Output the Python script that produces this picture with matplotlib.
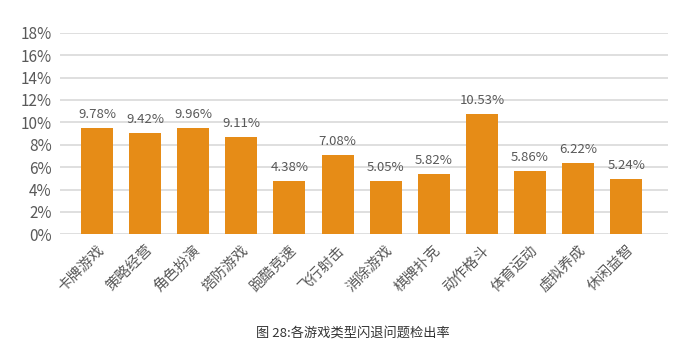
import matplotlib.pyplot as plt

plt.rcParams['font.family'] = ['Noto Sans CJK SC', 'DejaVu Sans']

# categories and values
categories = ["卡牌游戏", "策略经营", "角色扮演", "塔防游戏", "跑酷竞速", "飞行射击",
              "消除游戏", "棋牌扑克", "动作格斗", "体育运动", "虚拟养成", "休闲益智"]
# bar heights as drawn (%)
bar_heights = [9.49, 9.04, 9.49, 8.68, 4.76, 7.08, 4.76, 5.38, 10.74, 5.65, 6.37, 4.94]
# printed data labels
label_values = [9.78, 9.42, 9.96, 9.11, 4.38, 7.08, 5.05, 5.82, 10.53, 5.86, 6.22, 5.24]
y_ticks = [0, 2, 4, 6, 8, 10, 12, 14, 16, 18]

bar_color = "#E68C17"
text_color = "#595959"
grid_color = "#D9D9D9"

fig = plt.figure(figsize=(6.93, 3.53), dpi=100)
ax = fig.add_axes([60 / 693, 1 - 234.3 / 353, 608 / 693, (234.3 - 32.7) / 353])

x = range(len(categories))
bars = ax.bar(x, bar_heights, width=0.665, color=bar_color, zorder=3)

for b, v in zip(bars, label_values):
    ax.annotate(f"{v:.2f}%", (b.get_x() + b.get_width() / 2, b.get_height()),
                xytext=(0, 5), textcoords="offset points",
                ha="center", va="bottom", fontsize=9.5, color=text_color)

ax.set_ylim(0, 18)
ax.set_xlim(-0.77, 11.87)
ax.set_yticks(y_ticks)
ax.set_yticklabels([f"{t}%" for t in y_ticks], fontsize=11, color=text_color)
ax.set_xticks(list(x))
ax.set_xticklabels(categories, rotation=45, ha="right", rotation_mode="anchor",
                   fontsize=10.5, color=text_color)
ax.tick_params(axis="both", length=0)
ax.tick_params(axis="y", pad=6)
ax.tick_params(axis="x", pad=6)

ax.grid(axis="y", color=grid_color, linewidth=1.2, zorder=0)
for s in ax.spines.values():
    s.set_visible(False)

fig.text(353 / 693, 1 - 333 / 353, "图 28:各游戏类型闪退问题检出率",
         ha="center", va="center", fontsize=9.5, color="#333333")

fig.savefig("out.png", dpi=100)
